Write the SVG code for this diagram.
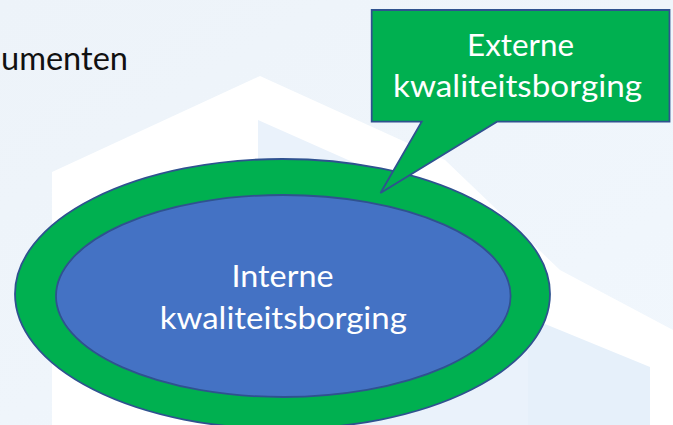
<svg xmlns="http://www.w3.org/2000/svg" width="673" height="425" viewBox="0 0 673 425">
  <defs>
    <style>
      .lbl { font-family: Lato, "Open Sans", "Liberation Sans", sans-serif; font-size: 30px; fill: #FFFFFF; text-anchor: middle; }
      .doc { font-family: Lato, "Open Sans", "Liberation Sans", sans-serif; font-size: 33px; fill: #111111; }
      .shape { stroke: #2F528F; stroke-width: 1.8; stroke-linejoin: miter; }
      .green { fill: #00B050; }
      .blue { fill: #4472C4; }
    </style>
    <linearGradient id="sky" x1="0" y1="0" x2="1" y2="1">
      <stop offset="0" stop-color="#EDF3F9"/>
      <stop offset="1" stop-color="#F1F7FD"/>
    </linearGradient>
  </defs>

  <g id="background">
    <rect x="0" y="0" width="673" height="425" fill="url(#sky)"/>
    <polygon points="52,425 52,172 260,76 445,160 560,270 673,330 673,425" fill="#FFFFFF"/>
    <polygon points="258,120 445,203 540,290 540,425 258,425" fill="#EAF2FB"/>
    <polygon points="528,317 650,367 650,425 528,425" fill="#E6F0FA"/>
  </g>

  <g id="doc-title">
    <text class="doc" x="1" y="70" textLength="127" lengthAdjust="spacingAndGlyphs">umenten</text>
  </g>

  <g id="node-intern">
    <ellipse class="shape green" cx="282.5" cy="294" rx="267.5" ry="135"/>
    <ellipse class="shape blue" cx="283.3" cy="296" rx="227.3" ry="101"/>
    <text class="lbl" x="282.5" y="287" textLength="102" lengthAdjust="spacingAndGlyphs">Interne</text>
    <text class="lbl" x="283.3" y="328.5" textLength="247" lengthAdjust="spacingAndGlyphs">kwaliteitsborging</text>
  </g>

  <g id="node-extern">
    <path class="shape green" d="M371.7,10 H669.5 V121.7 H497 L380.5,193 L421.7,121.7 H371.7 Z"/>
    <text class="lbl" x="520.6" y="56" textLength="107" lengthAdjust="spacingAndGlyphs">Externe</text>
    <text class="lbl" x="517.5" y="96.7" textLength="249" lengthAdjust="spacingAndGlyphs">kwaliteitsborging</text>
  </g>

  <g id="connectors"/>
</svg>
